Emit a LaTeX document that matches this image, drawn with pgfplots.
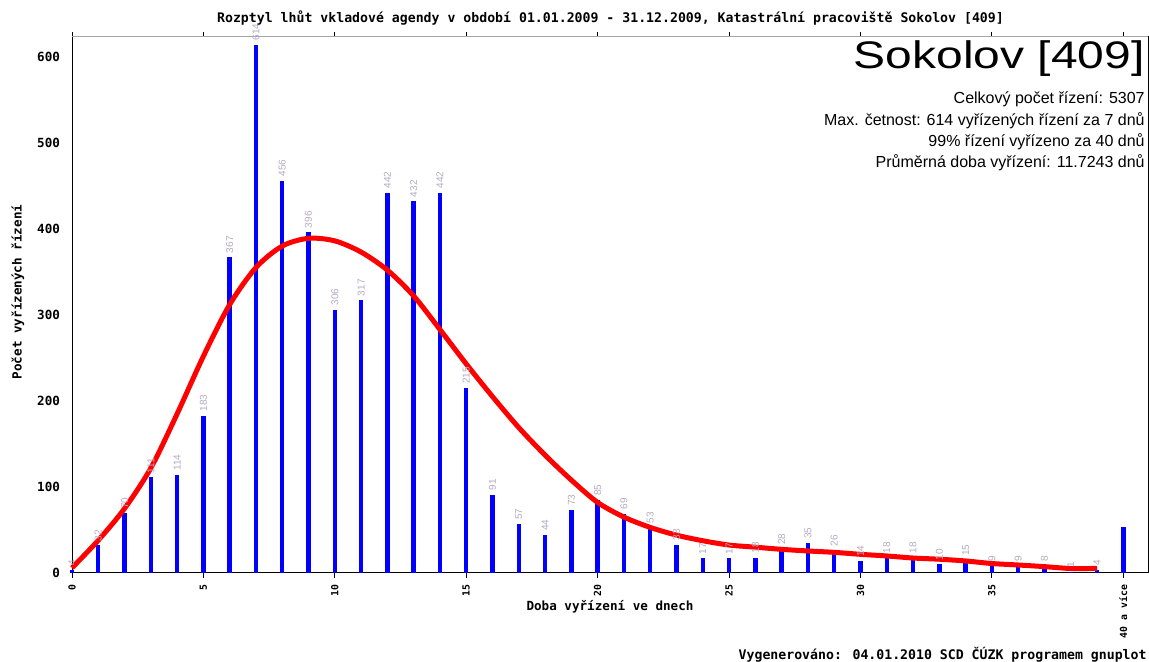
\documentclass[border=0pt]{standalone}
\usepackage{fontspec}
\setmainfont{Liberation Sans}
\newfontfamily\gp{DejaVu Sans Mono}
\usepackage{pgfplots}
\pgfplotsset{compat=1.18}
\definecolor{barblue}{RGB}{0,0,255}
\definecolor{lblgray}{RGB}{180,170,192}
\newcommand\gpfont{\gp\bfseries\fontsize{6.3}{7}\selectfont}
\newcommand\gpbig{\gp\bfseries\fontsize{6.6}{7}\selectfont}
\newcommand\gpsmall{\gp\bfseries\fontsize{4.9}{6}\selectfont}

\begin{document}
\begin{tikzpicture}[x=1pt,y=1pt]
\path[use as bounding box] (0,0) rectangle (574.5,331);
\begin{axis}[
  at={(36pt,44.5pt)}, anchor=south west,
  scale only axis, width=538pt, height=268pt,
  xmin=0, xmax=40.94, ymin=0, ymax=623,
  clip=false,
  xtick={0,5,...,40},
  xticklabels={0,5,10,15,20,25,30,35,40 a více},
  ytick={0,100,...,600},
  tick align=outside, major tick length=2.5pt,
  ytick style={draw=none},
  xtick style={black, line width=0.5pt},
  x tick label style={rotate=90, anchor=east, font=\gpsmall},
  y tick label style={font=\gpfont},
  /pgf/number format/assume math mode=true,
  axis line style={black, line width=0.5pt},
]
% pocty rizeni podle doby vyrizeni (0..39 dnu)
\addplot[ycomb, draw=barblue, line width=2.2pt,
  nodes near coords,
  every node near coord/.append style={font=\fontsize{5}{5}\selectfont, text=lblgray, rotate=90, anchor=west, inner sep=1pt}]
  coordinates {
  (0,4) (1,32) (2,70) (3,111) (4,114) (5,183) (6,367) (7,614) (8,456) (9,396)
  (10,306) (11,317) (12,442) (13,432) (14,442) (15,215) (16,91) (17,57) (18,44) (19,73)
  (20,85) (21,69) (22,53) (23,33) (24,17) (25,17) (26,18) (27,28) (28,35) (29,26)
  (30,14) (31,18) (32,18) (33,10) (34,15) (35,9) (36,9) (37,8) (38,1) (39,4)
  };
% 40 a vice
\addplot[ycomb, draw=barblue, line width=2.2pt] coordinates {(40,54)};
% proklad
\addplot[red, line width=2.5pt, smooth, line join=round] coordinates {
  (0,6) (1,38) (2,75) (3,122) (4,185) (5,252) (6,312) (7,355) (8,380) (9,389)
  (10,386) (11,373) (12,352) (13,322) (14,283) (15,243) (16,205) (17,169) (18,137) (19,108)
  (20,82) (21,65) (22,53) (23,44) (24,37.5) (25,32.5) (26,30) (27,27.5) (28,25.6) (29,24)
  (30,21.7) (31,19.8) (32,17.4) (33,16) (34,14) (35,11) (36,9.3) (37,7.4) (38,5.2) (39,5.4)
};
\end{axis}
\draw[gray!70, line width=0.5pt] (36,312.5) -- (574,312.5);
\node[font=\gpbig] at (610.5/2,322) {Rozptyl lhůt vkladové agendy v období 01.01.2009 - 31.12.2009, Katastrální pracoviště Sokolov [409]};
\node[font=\gpfont] at (305,27.5) {Doba vyřízení ve dnech};
\node[font=\gpfont, rotate=90] at (9,185) {Počet vyřízených řízení};
\node[font=\gpbig, anchor=east, inner sep=0pt] at (573.5,3.5) {Vygenerováno: 04.01.2010 SCD ČÚZK programem gnuplot};
\node[anchor=east, inner sep=0pt, font=\fontsize{24}{24}\selectfont] at (572.5,301.7) {\scalebox{1}[0.8]{Sokolov [409]}};
\begin{scope}[every node/.style={anchor=east, inner sep=0pt, font=\fontsize{8}{9}\selectfont}]
\node at (572.5,281.5) {Celkový počet řízení: 5307};
\node at (572.5,270.5) {Max. četnost: 614 vyřízených řízení za 7 dnů};
\node at (572.5,260) {99\% řízení vyřízeno za 40 dnů};
\node at (572.5,249.5) {Průměrná doba vyřízení: 11.7243 dnů};
\end{scope}
\end{tikzpicture}
\end{document}
